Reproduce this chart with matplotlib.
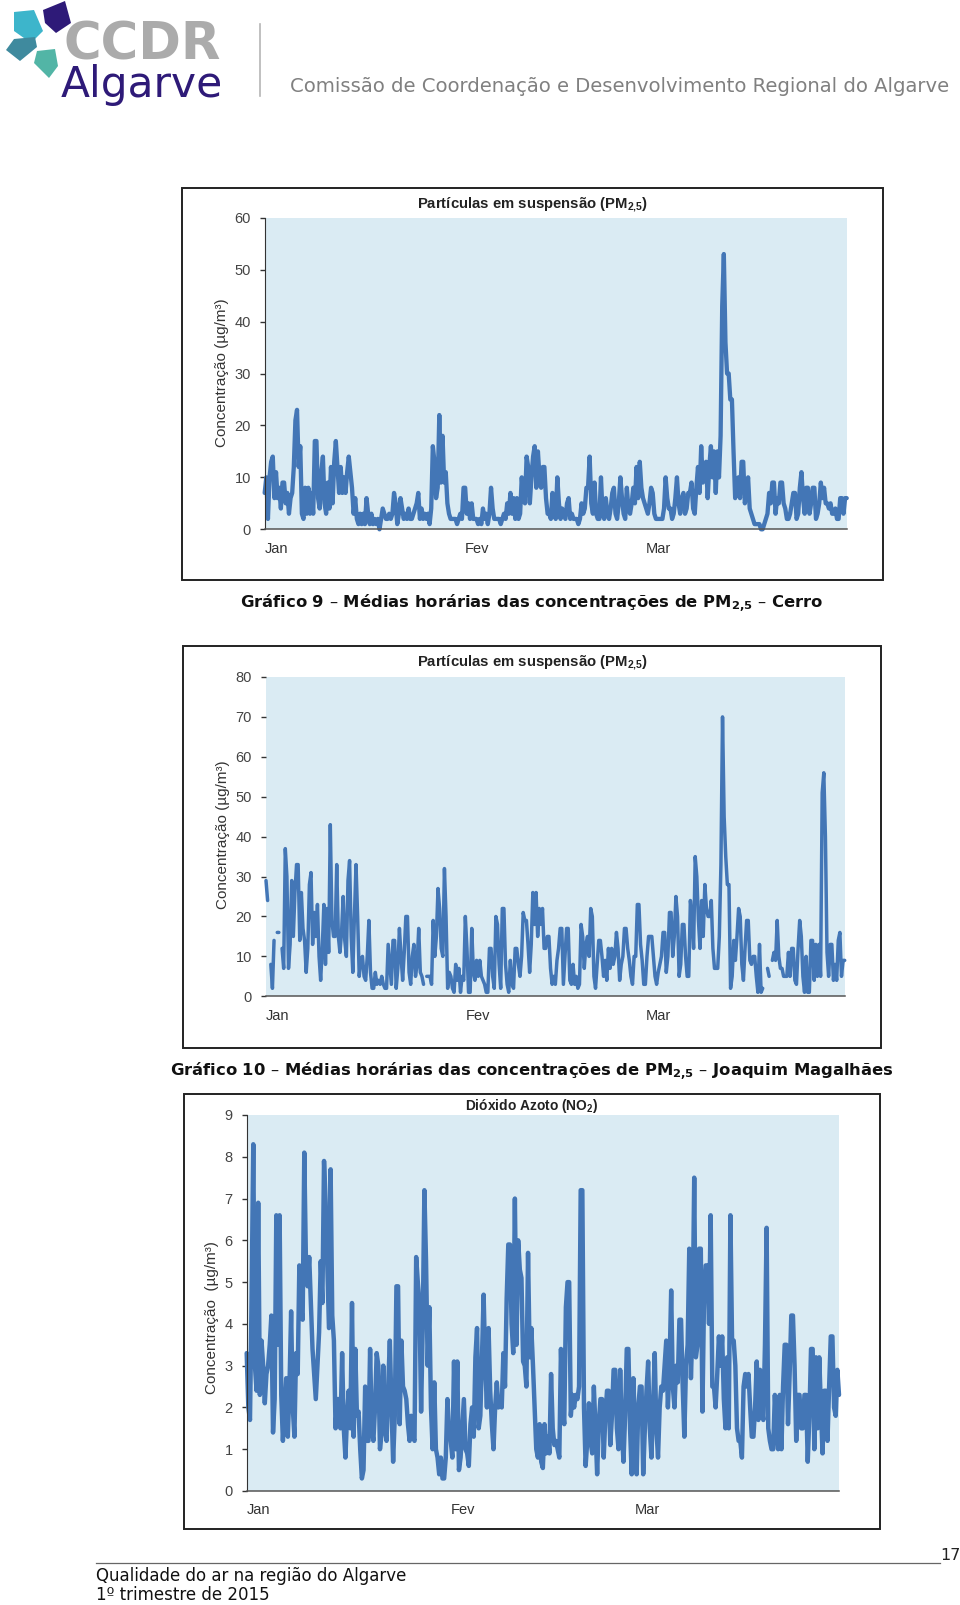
import numpy as np
import matplotlib
matplotlib.use('Agg')
import matplotlib.pyplot as plt
from matplotlib.patches import Polygon, Rectangle

plt.rcParams['mathtext.default'] = 'regular'

# four readings per day, one row per day
pm_cerro = [
    7,10,2,10, 13,14,6,11, 6,8,4,9, 9,5,7,3, 6,7,12,21, 23,12,16,3, 2,8,3,8, 3,7,3,17, 17,6,4,11, 14,5,3,9,
    4,12,5,13, 17,12,7,12, 7,10,7,11, 14,11,8,3, 6,2,1,3, 1,3,1,6, 3,1,3,1, 2,1,2,0, 2,4,3,2, 2,3,2,3,
    7,5,1,3, 6,4,2,3, 2,4,2,2, 3,4,5,7, 2,4,2,3, 2,3,1,4, 16,13,6,8, 22,9,18,9, 11,5,3,2, 2,2,2,1,
    2,3,2,8, 8,3,5,2, 5,2,2,2, 1,2,1,4, 2,3,1,3, 8,4,2,2, 2,2,1,2, 3,2,5,3, 7,3,6,2, 6,2,3,10,
    6,5,14,12, 5,10,14,16, 8,15,10,8, 12,12,6,3, 3,2,7,3, 2,10,5,2, 4,3,2,5, 6,2,3,2, 2,2,1,2, 5,3,4,8,
    8,14,5,3, 9,3,2,2, 10,3,2,6, 3,2,4,7, 8,3,2,5, 10,6,3,2, 8,4,3,5, 8,5,12,6, 13,8,6,5, 4,3,5,8,
    7,3,2,2, 2,2,2,4, 10,6,4,4, 2,3,6,10, 5,3,6,7, 3,4,7,7, 9,4,3,8, 12,7,16,9, 10,13,6,12, 16,10,15,7,
    15,10,18,43, 53,36,30,30, 25,25,15,6, 8,10,6,13, 13,5,7,10, 4,3,2,1, 1,1,1,0, 0,1,2,3, 7,5,9,9, 3,6,5,9,
    9,5,4,2, 2,3,5,7, 7,2,3,8, 11,6,3,8, 8,3,5,8, 8,2,3,5, 9,6,8,5, 5,4,5,3, 3,4,2,2, 6,6,3,6, 6,
]
pm_joaquim = [
    29,24,None,8, 2,14,None,16, 16,None,12,7, 37,30,7,13, 29,15,26,33, 33,14,26,17, 14,6,12,28, 31,13,21,15, 23,10,4,12, 23,8,22,11,
    43,19,15,15, 33,15,11,16, 25,14,10,29, 34,15,6,20, 33,20,5,9, 10,5,4,10, 19,6,2,2, 6,3,4,3, 5,3,2,2, 13,8,3,14,
    14,2,7,17, 10,4,11,20, 20,6,3,10, 13,5,8,17, 6,5,3,None, 5,5,5,3, 19,10,15,27, 22,12,10,32, 20,2,6,5, 2,1,8,4,
    7,1,5,4, 20,12,1,1, 17,6,4,9, 5,9,5,4, 3,1,1,12, 12,5,2,20, 18,8,2,22, 22,8,3,1, 9,3,2,12, 12,8,5,10,
    21,19,19,13, 6,13,26,18, 26,15,22,18, 22,12,12,15, 15,7,3,5, 3,9,12,17, 17,3,10,17, 17,4,3,8, 3,5,2,3, 18,15,7,13,
    15,10,22,20, 5,2,8,14, 14,10,5,9, 4,12,7,12, 8,10,16,12, 4,8,10,17, 17,12,9,5, 3,10,10,23, 23,13,9,3, 3,10,15,15,
    15,10,5,3, 6,8,10,16, 16,6,10,21, 21,10,15,25, 20,5,8,18, 18,10,5,5, 24,20,12,35, 30,19,12,24, 15,28,22,20, 20,24,12,7,
    7,7,15,33, 70,45,35,28, 28,2,5,14, 9,15,22,20, 8,4,12,19, 19,9,8,10, 10,5,1,13, 1,2,None,None, 7,5,None,9, 11,9,19,10,
    7,7,5,5, 5,11,5,12, 12,4,3,12, 19,15,5,1, 10,1,1,14, 14,4,13,5, 13,5,51,56, 40,11,5,13, 13,4,8,4, 14,16,5,9, 9,
]
no2 = [
    3.3,2.0,1.7,4.7, 8.3,3.0,2.4,6.9, 2.3,3.6,3.0,2.1, 2.8,3.0,3.5,4.2, 1.4,2.2,6.6,3.5, 6.6,2.3,1.2,2.0, 2.7,1.3,2.5,4.3, 2.0,1.3,3.3,2.8,
    5.4,4.4,4.1,8.1, 5.5,4.9,5.6,4.5, 3.4,2.8,2.2,3.0, 3.8,5.5,4.5,7.9, 6.9,5.4,3.9,7.7, 4.2,3.6,1.5,2.2, 2.2,1.5,3.3,1.5, 0.8,1.8,2.4,1.5,
    4.5,1.3,3.4,1.8, 1.9,1.0,0.3,0.5, 2.5,1.2,1.2,3.4, 1.5,1.2,2.0,3.3, 3.0,1.0,1.4,3.0, 1.5,1.2,2.5,3.6, 2.0,0.7,1.8,4.9, 4.9,1.6,3.6,2.5,
    2.4,2.2,1.6,1.2, 1.8,1.3,1.2,5.6, 5.0,4.5,1.9,4.0, 7.2,5.5,3.0,4.4, 2.0,1.0,2.6,1.0, 0.8,0.4,0.8,0.3, 0.3,0.8,2.2,1.4, 1.2,0.8,3.1,1.0,
    3.1,0.5,0.8,1.5, 2.2,1.0,0.9,0.6, 1.6,2.0,1.3,3.2, 3.9,1.5,1.8,3.2, 4.7,3.0,2.0,3.9, 2.4,1.6,1.0,2.0, 2.6,2.0,2.2,2.0, 3.3,2.5,4.6,5.9,
    5.9,4.0,3.3,7.0, 3.5,6.0,5.3,5.1, 3.1,3.0,2.5,5.7, 3.2,3.9,3.0,2.0, 1.0,0.8,1.6,0.7, 0.55,1.6,0.9,1.3, 0.9,2.8,1.5,1.1, 1.2,1.0,0.8,3.4,
    2.0,1.6,4.4,5.0, 5.0,1.8,2.3,2.0, 2.3,2.2,2.5,7.2, 7.2,2.0,0.6,1.2, 2.1,1.2,0.9,2.5, 1.5,0.4,1.6,2.2, 2.2,0.8,1.8,2.4, 2.4,1.1,1.8,2.9,
    2.9,1.5,1.0,2.9, 1.5,0.7,1.8,3.4, 3.4,1.5,0.4,2.7, 1.5,0.4,2.0,2.5, 2.5,0.4,1.5,2.4, 3.1,1.5,0.8,2.0, 3.3,1.5,0.8,2.0, 2.5,2.4,3.0,3.6,
    2.0,3.0,4.8,2.5, 2.0,3.0,2.6,4.1, 4.1,2.5,1.3,3.0, 3.5,5.8,2.7,4.0, 7.5,3.2,3.5,5.8, 5.8,1.9,4.7,5.4, 5.4,4.0,6.6,2.5, 2.5,2.0,2.8,3.7,
    3.0,3.7,2.2,1.5, 3.2,1.5,6.6,3.6, 3.6,3.0,1.5,1.2, 1.2,0.8,2.5,2.8, 2.5,2.8,2.0,1.3, 1.3,2.0,3.1,1.7, 2.9,2.0,1.7,3.5, 6.3,1.5,1.2,1.0,
    1.0,2.3,1.5,1.0, 2.3,1.0,2.5,3.5, 3.5,1.6,2.8,4.2, 4.2,3.0,1.2,2.3, 2.3,1.5,1.5,2.3, 2.3,0.7,1.8,3.4, 3.4,1.0,3.2,1.5, 3.2,2.0,0.9,2.4,
    2.4,1.2,2.5,3.7, 3.7,2.0,1.8,2.9, 2.3,
]

months = ['Jan', 'Fev', 'Mar']
month_days = [0, 31, 59]
ylabel_pm = 'Concentração (µg/m³)'
ylabel_no2 = 'Concentração  (µg/m³)'
title_pm = 'Partículas em suspensão (PM$_{2{,}5}$)'
title_no2 = 'Dióxido Azoto (NO$_{2}$)'

W, H = 960, 1605
BLUE = '#4376B6'
BG = '#DAEBF3'

fig = plt.figure(figsize=(W / 100, H / 100), dpi=100, facecolor='white')

# page furniture is placed in pixels on a full page axes
page = fig.add_axes([0, 0, 1, 1])
page.set_xlim(0, W)
page.set_ylim(H, 0)
page.axis('off')


def draw_chart(values, box, frame, ymax, ystep, title, title_x, title_y, title_size, ylabel, ylab_x, ylab_y, lw, spine):
    l, t, r, b = box
    page.add_patch(Rectangle((frame[0], frame[1]), frame[2] - frame[0], frame[3] - frame[1],
                             fc='white', ec='#222222', lw=1.4))
    ax = fig.add_axes([l / W, 1 - b / H, (r - l) / W, (b - t) / H])
    ax.set_facecolor(BG)
    v = np.array(values, dtype=float)
    days = np.arange(len(v)) / 4
    ax.plot(days, v, color=BLUE, lw=lw, solid_joinstyle='round', solid_capstyle='round', clip_on=False)
    ax.set_xlim(0, 90)
    ax.set_ylim(0, ymax)
    ax.set_yticks(np.arange(0, ymax + ystep, ystep))
    ax.set_xticks(month_days)
    ax.set_xticklabels(months, ha='left', family='Liberation Sans', fontsize=10.5, color='#333333')
    ax.tick_params(axis='x', length=0, pad=9)
    ax.tick_params(axis='y', length=3.5, width=1, color='#333333', labelcolor='#444444', pad=6.5, labelsize=10.5)
    for lab in ax.get_yticklabels():
        lab.set_family('Liberation Sans')
    ax.spines['top'].set_visible(False)
    ax.spines['right'].set_visible(False)
    ax.spines['left'].set_visible(spine)
    ax.spines['left'].set_color('#333333')
    ax.spines['bottom'].set_color('#555555')
    ax.spines['bottom'].set_linewidth(1.1)
    page.text(title_x, title_y, title, family='Liberation Sans', fontsize=title_size, weight='bold',
              ha='center', va='center', color='#222222')
    page.text(ylab_x, ylab_y, ylabel, family='Liberation Sans', fontsize=11, rotation=90,
              ha='center', va='center', color='#333333')


draw_chart(pm_cerro, (264.7, 217.7, 846.7, 529.3), (181.5, 188, 883, 580), 60, 10,
           title_pm, 533, 205, 10.7, ylabel_pm, 222, 373, 3.1, True)
draw_chart(pm_joaquim, (266, 677, 844.7, 996.3), (183, 646, 881, 1048), 80, 10,
           title_pm, 533, 663, 10.7, ylabel_pm, 223, 835, 2.5, False)
draw_chart(no2, (246.7, 1115, 839, 1491), (184, 1094, 880, 1529), 9, 1,
           title_no2, 532, 1106, 9.9, ylabel_no2, 212, 1318, 3.2, True)

# captions
page.text(531.5, 604, 'Gráfico 9 – Médias horárias das concentrações de PM$_{2{,}5}$ – Cerro',
          family='DejaVu Sans', weight='bold', fontsize=11.8, ha='center', va='center', color='#111111')
page.text(532, 1072, 'Gráfico 10 – Médias horárias das concentrações de PM$_{2{,}5}$ – Joaquim Magalhães',
          family='DejaVu Sans', weight='bold', fontsize=11.8, ha='center', va='center', color='#111111')

# logo and header
logo = [
    ('#2E1A78', [(43, 10), (65, 1), (71, 23), (56, 33), (45, 23)]),
    ('#3DB5CB', [(14, 12), (34, 10), (43, 31), (31, 43), (14, 31)]),
    ('#3F8A9E', [(6, 50), (14, 39), (35, 37), (37, 47), (20, 61)]),
    ('#52B5A6', [(37, 51), (55, 49), (58, 66), (49, 78), (34, 63)]),
]
for col, pts in logo:
    page.add_patch(Polygon(pts, closed=True, fc=col, ec='none'))
page.text(63, 45, 'CCDR', family='DejaVu Sans', weight='bold', fontsize=37, color='#ABABAB', va='center', ha='left')
page.text(61, 85, 'Algarve', family='DejaVu Sans', fontsize=30.5, color='#2E1A78', va='center', ha='left')
page.plot([260, 260], [24, 96], color='#B5B5B5', lw=1.2)
page.text(290, 87, 'Comissão de Coordenação e Desenvolvimento Regional do Algarve', family='DejaVu Sans',
          fontsize=14.1, color='#808080', va='center', ha='left')

# footer
page.plot([96, 940], [1563, 1563], color='#666666', lw=0.9)
page.text(940, 1556, '17', family='DejaVu Sans', fontsize=11.5, color='#222222', va='center', ha='left')
page.text(96, 1576, 'Qualidade do ar na região do Algarve', family='DejaVu Sans', fontsize=12, color='#111111', va='center')
page.text(96, 1595, '1º trimestre de 2015', family='DejaVu Sans', fontsize=12, color='#111111', va='center')

fig.savefig('out.png', dpi=100)
